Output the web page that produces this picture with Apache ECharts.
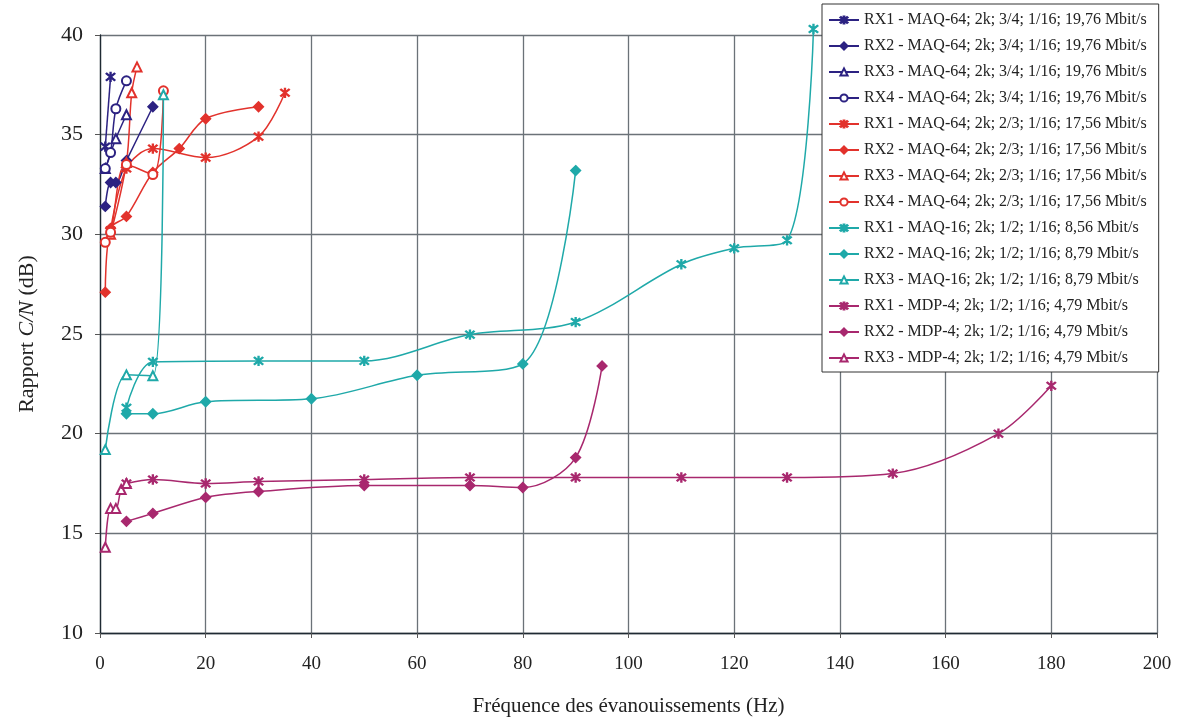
<!DOCTYPE html>
<html>
<head>
<meta charset="utf-8">
<script src="https://cdn.jsdelivr.net/npm/echarts@6/dist/echarts.min.js"></script>
<style>html,body{margin:0;padding:0;background:#fff;}#c{width:1181px;height:722px;}</style>
</head>
<body>
<div id="c"></div>
<script>
// ---- data (x = Hz, y = C/N dB) ----
const seriesNames = [
  'RX1 - MAQ-64; 2k; 3/4; 1/16; 19,76 Mbit/s',
  'RX2 - MAQ-64; 2k; 3/4; 1/16; 19,76 Mbit/s',
  'RX3 - MAQ-64; 2k; 3/4; 1/16; 19,76 Mbit/s',
  'RX4 - MAQ-64; 2k; 3/4; 1/16; 19,76 Mbit/s',
  'RX1 - MAQ-64; 2k; 2/3; 1/16; 17,56 Mbit/s',
  'RX2 - MAQ-64; 2k; 2/3; 1/16; 17,56 Mbit/s',
  'RX3 - MAQ-64; 2k; 2/3; 1/16; 17,56 Mbit/s',
  'RX4 - MAQ-64; 2k; 2/3; 1/16; 17,56 Mbit/s',
  'RX1 - MAQ-16; 2k; 1/2; 1/16; 8,56 Mbit/s',
  'RX2 - MAQ-16; 2k; 1/2; 1/16; 8,79 Mbit/s',
  'RX3 - MAQ-16; 2k; 1/2; 1/16; 8,79 Mbit/s',
  'RX1 - MDP-4; 2k; 1/2; 1/16; 4,79 Mbit/s',
  'RX2 - MDP-4; 2k; 1/2; 1/16; 4,79 Mbit/s',
  'RX3 - MDP-4; 2k; 1/2; 1/16; 4,79 Mbit/s'
];

const q64a_rx1_x = [1, 2];
const q64a_rx1_y = [34.4, 37.9];
const q64a_rx2_x = [1, 2, 3, 5, 10];
const q64a_rx2_y = [31.4, 32.6, 32.6, 33.7, 36.4];
const q64a_rx3_x = [1, 3, 5];
const q64a_rx3_y = [33.3, 34.8, 36.0];
const q64a_rx4_x = [1, 2, 3, 5];
const q64a_rx4_y = [33.3, 34.1, 36.3, 37.7];

const q64b_rx1_x = [2, 5, 10, 20, 30, 35];
const q64b_rx1_y = [30.2, 33.3, 34.3, 33.85, 34.9, 37.1];
const q64b_rx2_x = [1, 2, 5, 10, 15, 20, 30];
const q64b_rx2_y = [27.1, 30.3, 30.9, 33.1, 34.3, 35.8, 36.4];
const q64b_rx3_x = [2, 5, 6, 7];
const q64b_rx3_y = [30.0, 33.6, 37.1, 38.4];
const q64b_rx4_x = [1, 2, 5, 10, 12];
const q64b_rx4_y = [29.6, 30.1, 33.5, 33.0, 37.2];

const q16_rx1_x = [5, 10, 30, 50, 70, 90, 110, 120, 130, 135];
const q16_rx1_y = [21.3, 23.6, 23.65, 23.65, 24.97, 25.6, 28.5, 29.3, 29.7, 40.3];
const q16_rx2_x = [5, 10, 20, 40, 60, 80, 90];
const q16_rx2_y = [21.0, 21.0, 21.6, 21.75, 22.93, 23.5, 33.2];
const q16_rx3_x = [1, 5, 10, 12];
const q16_rx3_y = [19.2, 22.95, 22.9, 37.0];

const qp_rx1_x = [5, 10, 20, 30, 50, 70, 90, 110, 130, 150, 170, 180];
const qp_rx1_y = [17.5, 17.7, 17.5, 17.6, 17.7, 17.8, 17.8, 17.8, 17.8, 18.0, 20.0, 22.4];
const qp_rx2_x = [5, 10, 20, 30, 50, 70, 80, 90, 95];
const qp_rx2_y = [15.6, 16.0, 16.8, 17.1, 17.4, 17.4, 17.3, 18.8, 23.4];
const qp_rx3_x = [1, 2, 3, 4, 5];
const qp_rx3_y = [14.3, 16.25, 16.25, 17.2, 17.5];

const xTicks = [0, 20, 40, 60, 80, 100, 120, 140, 160, 180, 200];
const yTicks = [10, 15, 20, 25, 30, 35, 40];

// ---- styling ----
const NAVY = '#2c2282', RED = '#e2322c', TEAL = '#1fa9a9', MAG = '#a8286e';
const ASTER = 'path://M9,0L11,0L11,20L9,20Z M1.4,3.2L2.8,1.8L18.6,16.8L17.2,18.2Z M17.2,1.8L18.6,3.2L2.8,18.2L1.4,16.8Z';

const defs = [
  [q64a_rx1_x, q64a_rx1_y, NAVY, ASTER],
  [q64a_rx2_x, q64a_rx2_y, NAVY, 'diamond'],
  [q64a_rx3_x, q64a_rx3_y, NAVY, 'emptyTriangle'],
  [q64a_rx4_x, q64a_rx4_y, NAVY, 'emptyCircle'],
  [q64b_rx1_x, q64b_rx1_y, RED, ASTER],
  [q64b_rx2_x, q64b_rx2_y, RED, 'diamond'],
  [q64b_rx3_x, q64b_rx3_y, RED, 'emptyTriangle'],
  [q64b_rx4_x, q64b_rx4_y, RED, 'emptyCircle'],
  [q16_rx1_x, q16_rx1_y, TEAL, ASTER],
  [q16_rx2_x, q16_rx2_y, TEAL, 'diamond'],
  [q16_rx3_x, q16_rx3_y, TEAL, 'emptyTriangle'],
  [qp_rx1_x, qp_rx1_y, MAG, ASTER],
  [qp_rx2_x, qp_rx2_y, MAG, 'diamond'],
  [qp_rx3_x, qp_rx3_y, MAG, 'emptyTriangle']
];

const series = defs.map((d, i) => ({
  name: seriesNames[i],
  type: 'line',
  data: d[0].map((x, k) => [x, d[1][k]]),
  smooth: 0.33,
  clip: false,
  symbol: d[3],
  symbolSize: d[3] === ASTER ? 9 : (d[3] === 'diamond' ? 10 : 9),
  lineStyle: { color: d[2], width: 1.5 },
  itemStyle: { color: d[2], borderColor: d[2], borderWidth: 1.3 },
  emphasis: { disabled: true },
  z: 2
}));

const SERIF = '"Liberation Serif","DejaVu Serif",serif';
const chart = echarts.init(document.getElementById('c'), null, { renderer: 'canvas' });
chart.setOption({
  animation: false,
  backgroundColor: '#fff',
  grid: { left: 100, right: 24, top: 35, bottom: 82, containLabel: false },
  xAxis: {
    type: 'value', min: 0, max: 200, interval: 20,
    name: 'Fréquence des évanouissements (Hz)',
    nameLocation: 'middle', nameGap: 63,
    nameTextStyle: { fontFamily: SERIF, fontSize: 21, color: '#222' },
    axisLine: { show: true, onZero: false, lineStyle: { color: '#1f2a33', width: 1.3 } },
    axisTick: { show: true, length: 5, lineStyle: { color: '#555' } },
    axisLabel: { fontFamily: SERIF, fontSize: 19, color: '#222', margin: 22,
      formatter: v => xTicks.includes(v) ? String(v) : '' },
    splitLine: { show: true, lineStyle: { color: '#6b7278', width: 1.3 } }
  },
  yAxis: {
    type: 'value', min: 10, max: 40, interval: 5,
    name: '{a|Rapport }{i|C/N}{a| (dB)}',
    nameLocation: 'middle', nameGap: 62, nameRotate: 90,
    nameTextStyle: { rich: {
      a: { fontFamily: SERIF, fontSize: 22, color: '#222' },
      i: { fontFamily: SERIF, fontSize: 22, fontStyle: 'italic', color: '#222' } } },
    axisLine: { show: true, lineStyle: { color: '#1f2a33', width: 1.3 } },
    axisTick: { show: true, length: 5, lineStyle: { color: '#555' } },
    axisLabel: { fontFamily: SERIF, fontSize: 22, color: '#222', margin: 17,
      formatter: v => yTicks.includes(v) ? String(v) : '' },
    splitLine: { show: true, lineStyle: { color: '#6b7278', width: 1.3 } }
  },
  legend: {
    orient: 'vertical', left: 822, top: 4,
    backgroundColor: '#fff', borderColor: '#333', borderWidth: 1,
    padding: [8, 12, 6, 6],
    itemWidth: 30, itemHeight: 9, itemGap: 10,
    textStyle: { fontFamily: SERIF, fontSize: 16, color: '#222', lineHeight: 16 },
    data: seriesNames,
    z: 10
  },
  series: series
});
</script>
</body>
</html>
